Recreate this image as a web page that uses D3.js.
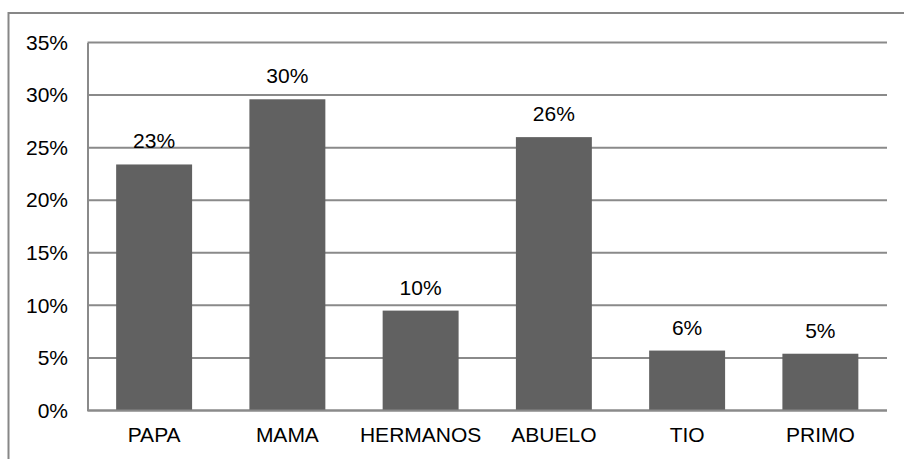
<!DOCTYPE html>
<html>
<head>
<meta charset="utf-8">
<script src="https://cdn.jsdelivr.net/npm/d3@7"></script>
<style>
  html, body { margin: 0; padding: 0; background: #fff; }
  svg { display: block; }
  text { font-family: "Liberation Sans", Arial, sans-serif; fill: #000; }
</style>
</head>
<body>
<script>
// Family members and their share of responses
const categories = ["PAPA", "MAMA", "HERMANOS", "ABUELO", "TIO", "PRIMO"];
const values = [0.234, 0.296, 0.095, 0.26, 0.057, 0.054];
const yTicks = [0, 0.05, 0.10, 0.15, 0.20, 0.25, 0.30, 0.35];

const W = 904, H = 459;
const margin = { left: 87.5, right: 17, top: 42.5, bottom: 48.5 };

const svg = d3.select("body").append("svg")
  .attr("width", W).attr("height", H);

// Outer chart frame (runs past the right and bottom edges)
svg.append("rect")
  .attr("x", 8.5).attr("y", 13)
  .attr("width", 1200).attr("height", 1200)
  .attr("fill", "none")
  .attr("stroke", "#878787")
  .attr("stroke-width", 2);

const x = d3.scaleBand()
  .domain(categories)
  .range([margin.left, W - margin.right])
  .paddingInner(0.43)
  .paddingOuter(0.215);

const y = d3.scaleLinear()
  .domain([0, 0.35])
  .range([H - margin.bottom, margin.top]);

const fmt = d3.format(".0%");

// Horizontal gridlines
svg.append("g")
  .selectAll("line")
  .data(yTicks)
  .join("line")
  .attr("x1", margin.left).attr("x2", W - margin.right)
  .attr("y1", d => y(d)).attr("y2", d => y(d))
  .attr("stroke", "#8a8a8a")
  .attr("stroke-width", 2);

// Y axis labels
const yAxis = d3.axisLeft(y).tickValues(yTicks).tickFormat(fmt).tickSize(0).tickPadding(19.5);
const gy = svg.append("g")
  .attr("transform", `translate(${margin.left},0)`)
  .call(yAxis);
gy.select(".domain").attr("stroke", "#8a8a8a").attr("stroke-width", 2);
gy.selectAll("text")
  .attr("font-size", 21)
  .attr("font-family", "'Liberation Sans', Arial, sans-serif")
  .attr("fill", "#000");

// Bars
svg.append("g")
  .selectAll("rect")
  .data(categories)
  .join("rect")
  .attr("x", d => x(d))
  .attr("width", x.bandwidth())
  .attr("y", (d, i) => y(values[i]))
  .attr("height", (d, i) => y(0) - y(values[i]))
  .attr("fill", "#616161");

// Value labels above bars
svg.append("g")
  .selectAll("text")
  .data(categories)
  .join("text")
  .attr("x", d => x(d) + x.bandwidth() / 2)
  .attr("y", (d, i) => y(values[i]) - 16)
  .attr("text-anchor", "middle")
  .attr("font-size", 21)
  .text((d, i) => fmt(values[i]));

// X axis: baseline and category labels
const xAxis = d3.axisBottom(x).tickSize(0).tickPadding(17);
const gx = svg.append("g")
  .attr("transform", `translate(0,${y(0)})`)
  .call(xAxis);
gx.select(".domain").attr("stroke", "#8a8a8a").attr("stroke-width", 2)
  .attr("d", `M${margin.left},0H${W - margin.right}`);
gx.selectAll("text")
  .attr("font-size", 21)
  .attr("font-family", "'Liberation Sans', Arial, sans-serif")
  .attr("fill", "#000");
</script>
</body>
</html>
